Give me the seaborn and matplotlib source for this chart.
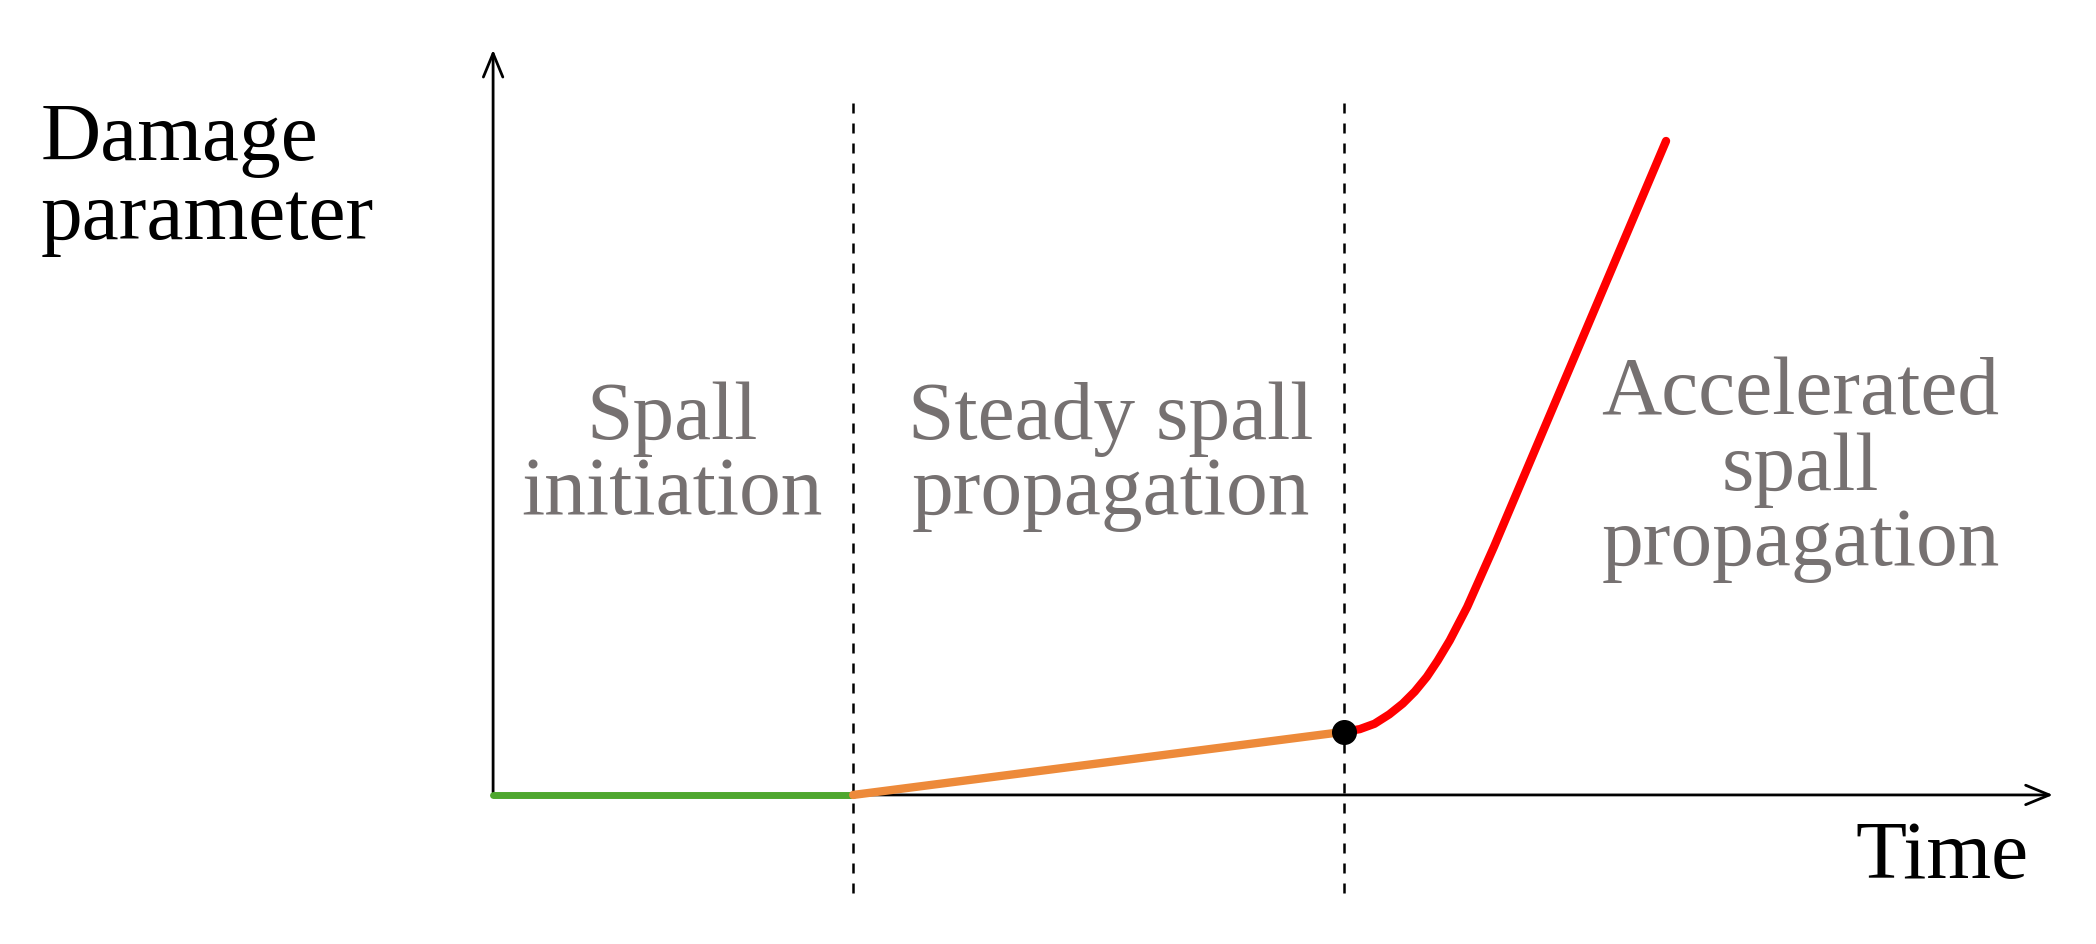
import numpy as np
import matplotlib
matplotlib.use('Agg')
import matplotlib.pyplot as plt
import seaborn as sns

sns.set_style("white")
plt.rcParams['font.family'] = ['Liberation Serif', 'DejaVu Serif']

# schematic phases (time, damage) in arbitrary units
init_t = [0, 268]
init_d = [0, 0]
steady_t = [268, 633]
steady_d = [0, 47]
accel_t = [633, 645, 656, 667, 677, 686, 695, 703, 712, 725, 745, 873]
accel_d = [47, 49, 53, 60, 68, 77, 88, 100, 115, 140, 185, 487]
boundaries = [268, 633]
phase_labels = ["Spall\ninitiation", "Steady spall\npropagation", "Accelerated\nspall\npropagation"]
label_t = [133, 460, 973]
label_d = [252, 252, 242]

fig = plt.figure(figsize=(20.96, 9.44), dpi=100)
ax = fig.add_axes([0, 0, 1, 1])
ax.set_xlim(-367, 1560 - 367)
ax.set_ylim(-(703 - 592), 592)
ax.axis('off')

arrow = dict(arrowstyle='->,head_width=0.7,head_length=1.7', lw=2, color='black')
ax.annotate('', xy=(0, 557), xytext=(0, 0), arrowprops=arrow)
ax.annotate('', xy=(1163, 0), xytext=(0, 0), arrowprops=arrow)

sns.lineplot(x=init_t, y=init_d, color='#4ea72e', lw=5, ax=ax, zorder=4)
sns.lineplot(x=steady_t, y=steady_d, color='#ed8a3a', lw=6, ax=ax, zorder=4)
sns.lineplot(x=accel_t, y=accel_d, color='#ff0000', lw=6, ax=ax, sort=False, zorder=4)
ax.plot(steady_t[-1], steady_d[-1], 'o', color='black', ms=17, zorder=5)

for b in boundaries:
    ax.plot([b, b], [-73, 517], ls=(0, (4, 4)), color='black', lw=1.8)

ax.text(-337, 458, "Damage\nparameter", fontsize=60, ha='left', va='center',
        linespacing=1.05, color='black')
ax.text(1143, -47, "Time", fontsize=60, ha='right', va='center', color='black')
for t, d, s in zip(label_t, label_d, phase_labels):
    ax.text(t, d, s, fontsize=60, color='#767171', ha='center', va='center', linespacing=1.0)

fig.savefig('out.png', dpi=100)
